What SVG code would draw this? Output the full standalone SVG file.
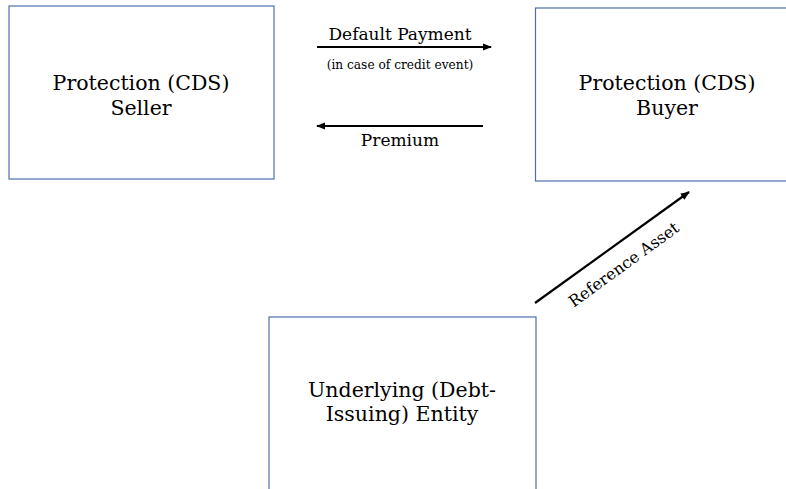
<svg xmlns="http://www.w3.org/2000/svg" width="786" height="489" viewBox="0 0 786 489">
<style>
.box{fill:#fff;stroke:#4f6fae;stroke-width:1.2}
.t{font-family:"DejaVu Serif","Liberation Serif",serif;fill:#000;text-anchor:middle}
.big{font-size:20.5px}
.mid{font-size:17px}
.sm{font-size:12.2px}
.ra{font-size:16px}
.c{stroke:#000;stroke-width:2.2;fill:none}
</style>
<defs>
<marker id="ah" viewBox="0 0 10 10" refX="9" refY="5" markerWidth="4.2" markerHeight="4.2" orient="auto" markerUnits="strokeWidth">
<path d="M0,1 L10,5 L0,9 z" fill="#000"/>
</marker>
</defs>
<rect width="786" height="489" fill="#fff"/>
<g id="seller">
<rect class="box" x="9" y="6" width="265" height="173"/>
<text class="t big" x="141" y="90">Protection (CDS)</text>
<text class="t big" x="141" y="115">Seller</text>
</g>
<g id="buyer">
<rect class="box" x="535.5" y="8" width="260" height="173"/>
<text class="t big" x="667" y="90">Protection (CDS)</text>
<text class="t big" x="667" y="115">Buyer</text>
</g>
<g id="entity">
<rect class="box" x="269" y="317" width="267" height="190"/>
<text class="t big" x="402" y="397">Underlying (Debt-</text>
<text class="t big" x="402" y="421">Issuing) Entity</text>
</g>
<g id="connectors">
<line class="c" x1="317" y1="47" x2="491" y2="47" marker-end="url(#ah)"/>
<line class="c" x1="483" y1="126" x2="317" y2="126" marker-end="url(#ah)"/>
<line class="c" x1="535" y1="303" x2="689" y2="192" marker-end="url(#ah)"/>
<text class="t mid" x="400" y="40">Default Payment</text>
<text class="t sm" x="400" y="69">(in case of credit event)</text>
<text class="t mid" x="400" y="146">Premium</text>
<text class="t ra" transform="translate(627,269) rotate(-36)">Reference Asset</text>
</g>
</svg>
